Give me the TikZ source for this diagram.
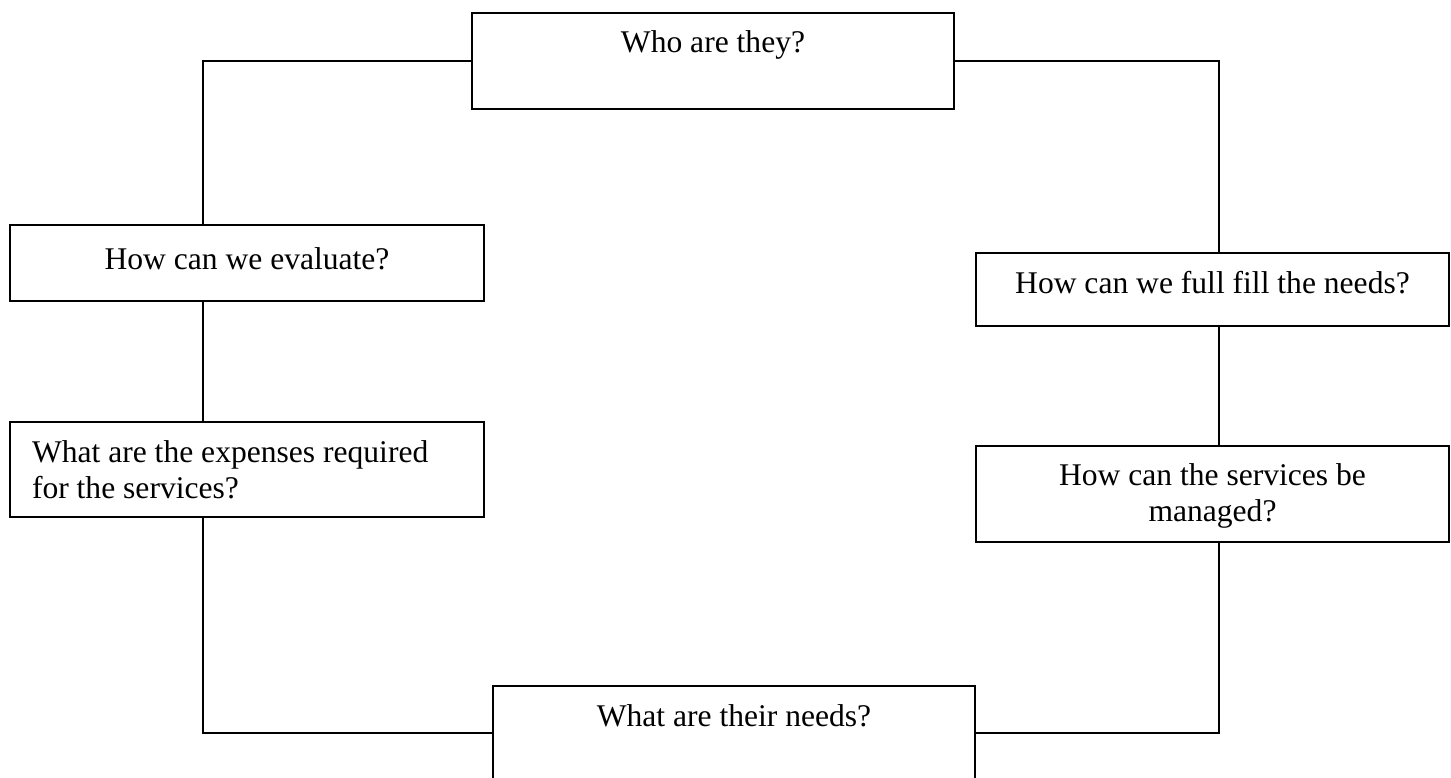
\documentclass[tikz,border=0pt]{standalone}
\usepackage{fontspec}
\setmainfont{Liberation Serif}

\begin{document}
\begin{tikzpicture}[x=0.38pt, y=-0.38pt,
    qbox/.style={rectangle, draw, line width=0.5pt, inner sep=0pt, text height=8pt, font=\fontsize{12}{13.7}\selectfont},
    link/.style={line width=0.5pt}]
    \path[use as bounding box, clip] (0,0) rectangle (1451,778);
    % the six questions
    \node[qbox, minimum width=183.2pt, minimum height=36.5pt, text depth=14.1pt] (who) at (713,61) {Who are they?};
    \node[qbox, minimum width=180.1pt, minimum height=28.9pt, text depth=3.4pt] (eval) at (247,263) {How can we evaluate?};
    \node[qbox, minimum width=179.7pt, minimum height=27.7pt, text depth=5.3pt] (fill) at (1212.5,289.5) {How can we full fill the needs?};
    \node[qbox, minimum width=180.1pt, minimum height=36.1pt, text width=163.4pt, align=flush left, text depth=13.7pt] (cost) at (247,469.5) {What are the expenses required\\for the services?};
    \node[qbox, minimum width=179.7pt, minimum height=36.5pt, text width=163.4pt, align=flush center, text depth=14.8pt] (manage) at (1212.5,494) {How can the services be\\managed?};
    \node[qbox, minimum width=183.2pt, minimum height=35.7pt, text depth=12.6pt] (needs) at (734,733) {What are their needs?};
    % the two columns of the loop
    \coordinate (lcol) at (203,0);
    \coordinate (rcol) at (1219,0);
    \draw[link] (who.west) -| (eval.north -| lcol);
    \draw[link] (eval.south -| lcol) -- (cost.north -| lcol);
    \draw[link] (cost.south -| lcol) |- (needs.west);
    \draw[link] (who.east) -| (fill.north -| rcol);
    \draw[link] (fill.south -| rcol) -- (manage.north -| rcol);
    \draw[link] (manage.south -| rcol) |- (needs.east);
\end{tikzpicture}
\end{document}
